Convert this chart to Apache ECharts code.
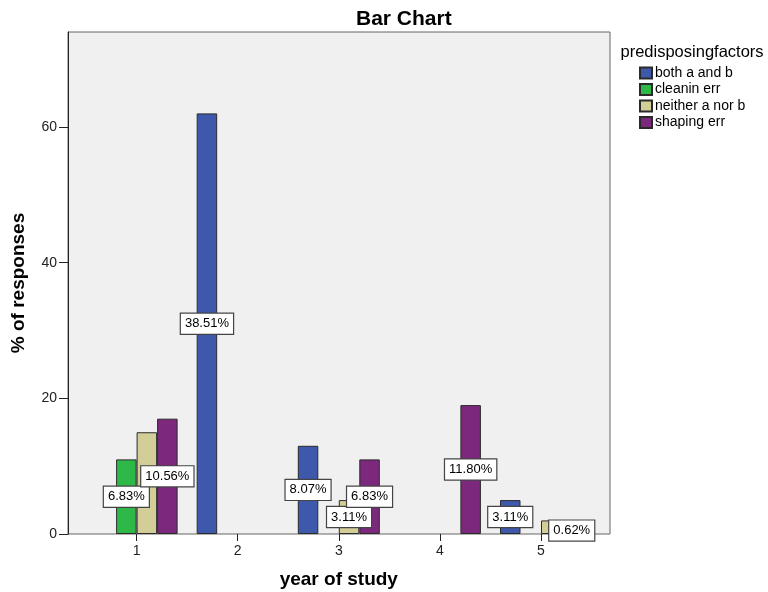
<!DOCTYPE html>
<html>
<head>
<meta charset="utf-8">
<script src="https://cdn.jsdelivr.net/npm/echarts@6/dist/echarts.min.js"></script>
<style>html,body{margin:0;padding:0;background:#fff}#c{width:768px;height:592px}</style>
</head>
<body>
<div id="c"></div>
<script>
const years = ['1', '2', '3', '4', '5'];
const seriesNames = ['both a and b', 'cleanin err', 'neither a nor b', 'shaping err'];
const bothAandB   = [null, 62, 13, null, 5];
const cleaninErr  = [11, null, null, null, null];
const neitherAnorB = [15, null, 5, null, 2];
const shapingErr  = [17, null, 11, 19, 1];
const bothLabels     = [null, '38.51%', '8.07%', null, '3.11%'];
const cleaninLabels  = ['6.83%', null, null, null, null];
const neitherLabels  = [null, null, '3.11%', null, null];
const shapingLabels  = ['10.56%', null, '6.83%', '11.80%', '0.62%'];
const yTicks = [0, 20, 40, 60];
const colors = ['#3E58AC', '#2EB848', '#D3CE97', '#7C287D'];

const FONT = 'Liberation Sans, Arial, sans-serif';
const chart = echarts.init(document.getElementById('c'));

function mkSeries(i, vals, labels) {
  return {
    name: seriesNames[i],
    type: 'bar',
    xAxisIndex: 1,
    yAxisIndex: 1,
    barWidth: 20.5,
    barGap: '0%',
    itemStyle: { color: colors[i], borderColor: '#2a2a2a', borderWidth: 1 },
    emphasis: { disabled: true },
    data: vals.map((v, k) => ({
      value: v,
      label: labels[k] ? {
        show: true,
        position: 'inside',
        formatter: labels[k],
        color: '#000',
        fontFamily: FONT,
        fontSize: 13,
        backgroundColor: '#fff',
        borderColor: '#444',
        borderWidth: 1.2,
        padding: [4, 4, 3, 4]
      } : { show: false }
    }))
  };
}

chart.setOption({
  animation: false,
  color: colors,
  textStyle: { fontFamily: FONT },
  title: [
    { text: 'Bar Chart', left: 351, top: 4, textStyle: { fontSize: 21, fontWeight: 'bold', color: '#000', fontFamily: FONT } },
    { text: 'predisposingfactors', left: 615.5, top: 39, textStyle: { fontSize: 16.5, fontWeight: 'normal', color: '#000', fontFamily: FONT } }
  ],
  legend: {
    orient: 'vertical',
    left: 639,
    top: 66,
    padding: 0,
    itemWidth: 12,
    itemHeight: 11,
    itemGap: 2.5,
    icon: 'rect',
    selectedMode: false,
    textStyle: { fontSize: 14, color: '#000', fontFamily: FONT, padding: [0, 0, 0, -2] },
    data: seriesNames
  },
  grid: [
    { left: 68, top: 32, width: 542, height: 502, outerBoundsMode: 'none', containLabel: false, show: true, backgroundColor: '#F0F0F0', borderColor: '#666', borderWidth: 1 },
    { left: 86.05, top: 32, width: 505.5, height: 502, outerBoundsMode: 'none', containLabel: false }
  ],
  xAxis: [
    { type: 'value', gridIndex: 0, show: false, min: 0, max: 1 },
    {
      type: 'category', gridIndex: 1, data: years, boundaryGap: true,
      axisLine: { show: false },
      axisTick: { show: true, alignWithLabel: true, length: 7, lineStyle: { color: '#222' } },
      axisLabel: { fontSize: 14, color: '#222', margin: 10, fontFamily: FONT },
      name: 'year of study', nameLocation: 'middle', nameGap: 36.5,
      nameTextStyle: { fontSize: 19, fontWeight: 'bold', color: '#000', fontFamily: FONT }
    }
  ],
  yAxis: [
    {
      type: 'value', gridIndex: 0, min: 0, max: 74,
      axisLine: { show: true, lineStyle: { color: '#222' } },
      axisTick: { show: true, length: 9, customValues: yTicks, lineStyle: { color: '#222' } },
      axisLabel: { fontSize: 14, color: '#222', margin: 11, customValues: yTicks, fontFamily: FONT },
      splitLine: { show: false },
      name: '% of responses', nameLocation: 'middle', nameGap: 40,
      nameTextStyle: { fontSize: 19, fontWeight: 'bold', color: '#000', fontFamily: FONT }
    },
    { type: 'value', gridIndex: 1, min: 0, max: 74, show: false, splitLine: { show: false } }
  ],
  series: [
    mkSeries(0, bothAandB, bothLabels),
    mkSeries(1, cleaninErr, cleaninLabels),
    mkSeries(2, neitherAnorB, neitherLabels),
    mkSeries(3, shapingErr, shapingLabels)
  ]
});
</script>
</body>
</html>
